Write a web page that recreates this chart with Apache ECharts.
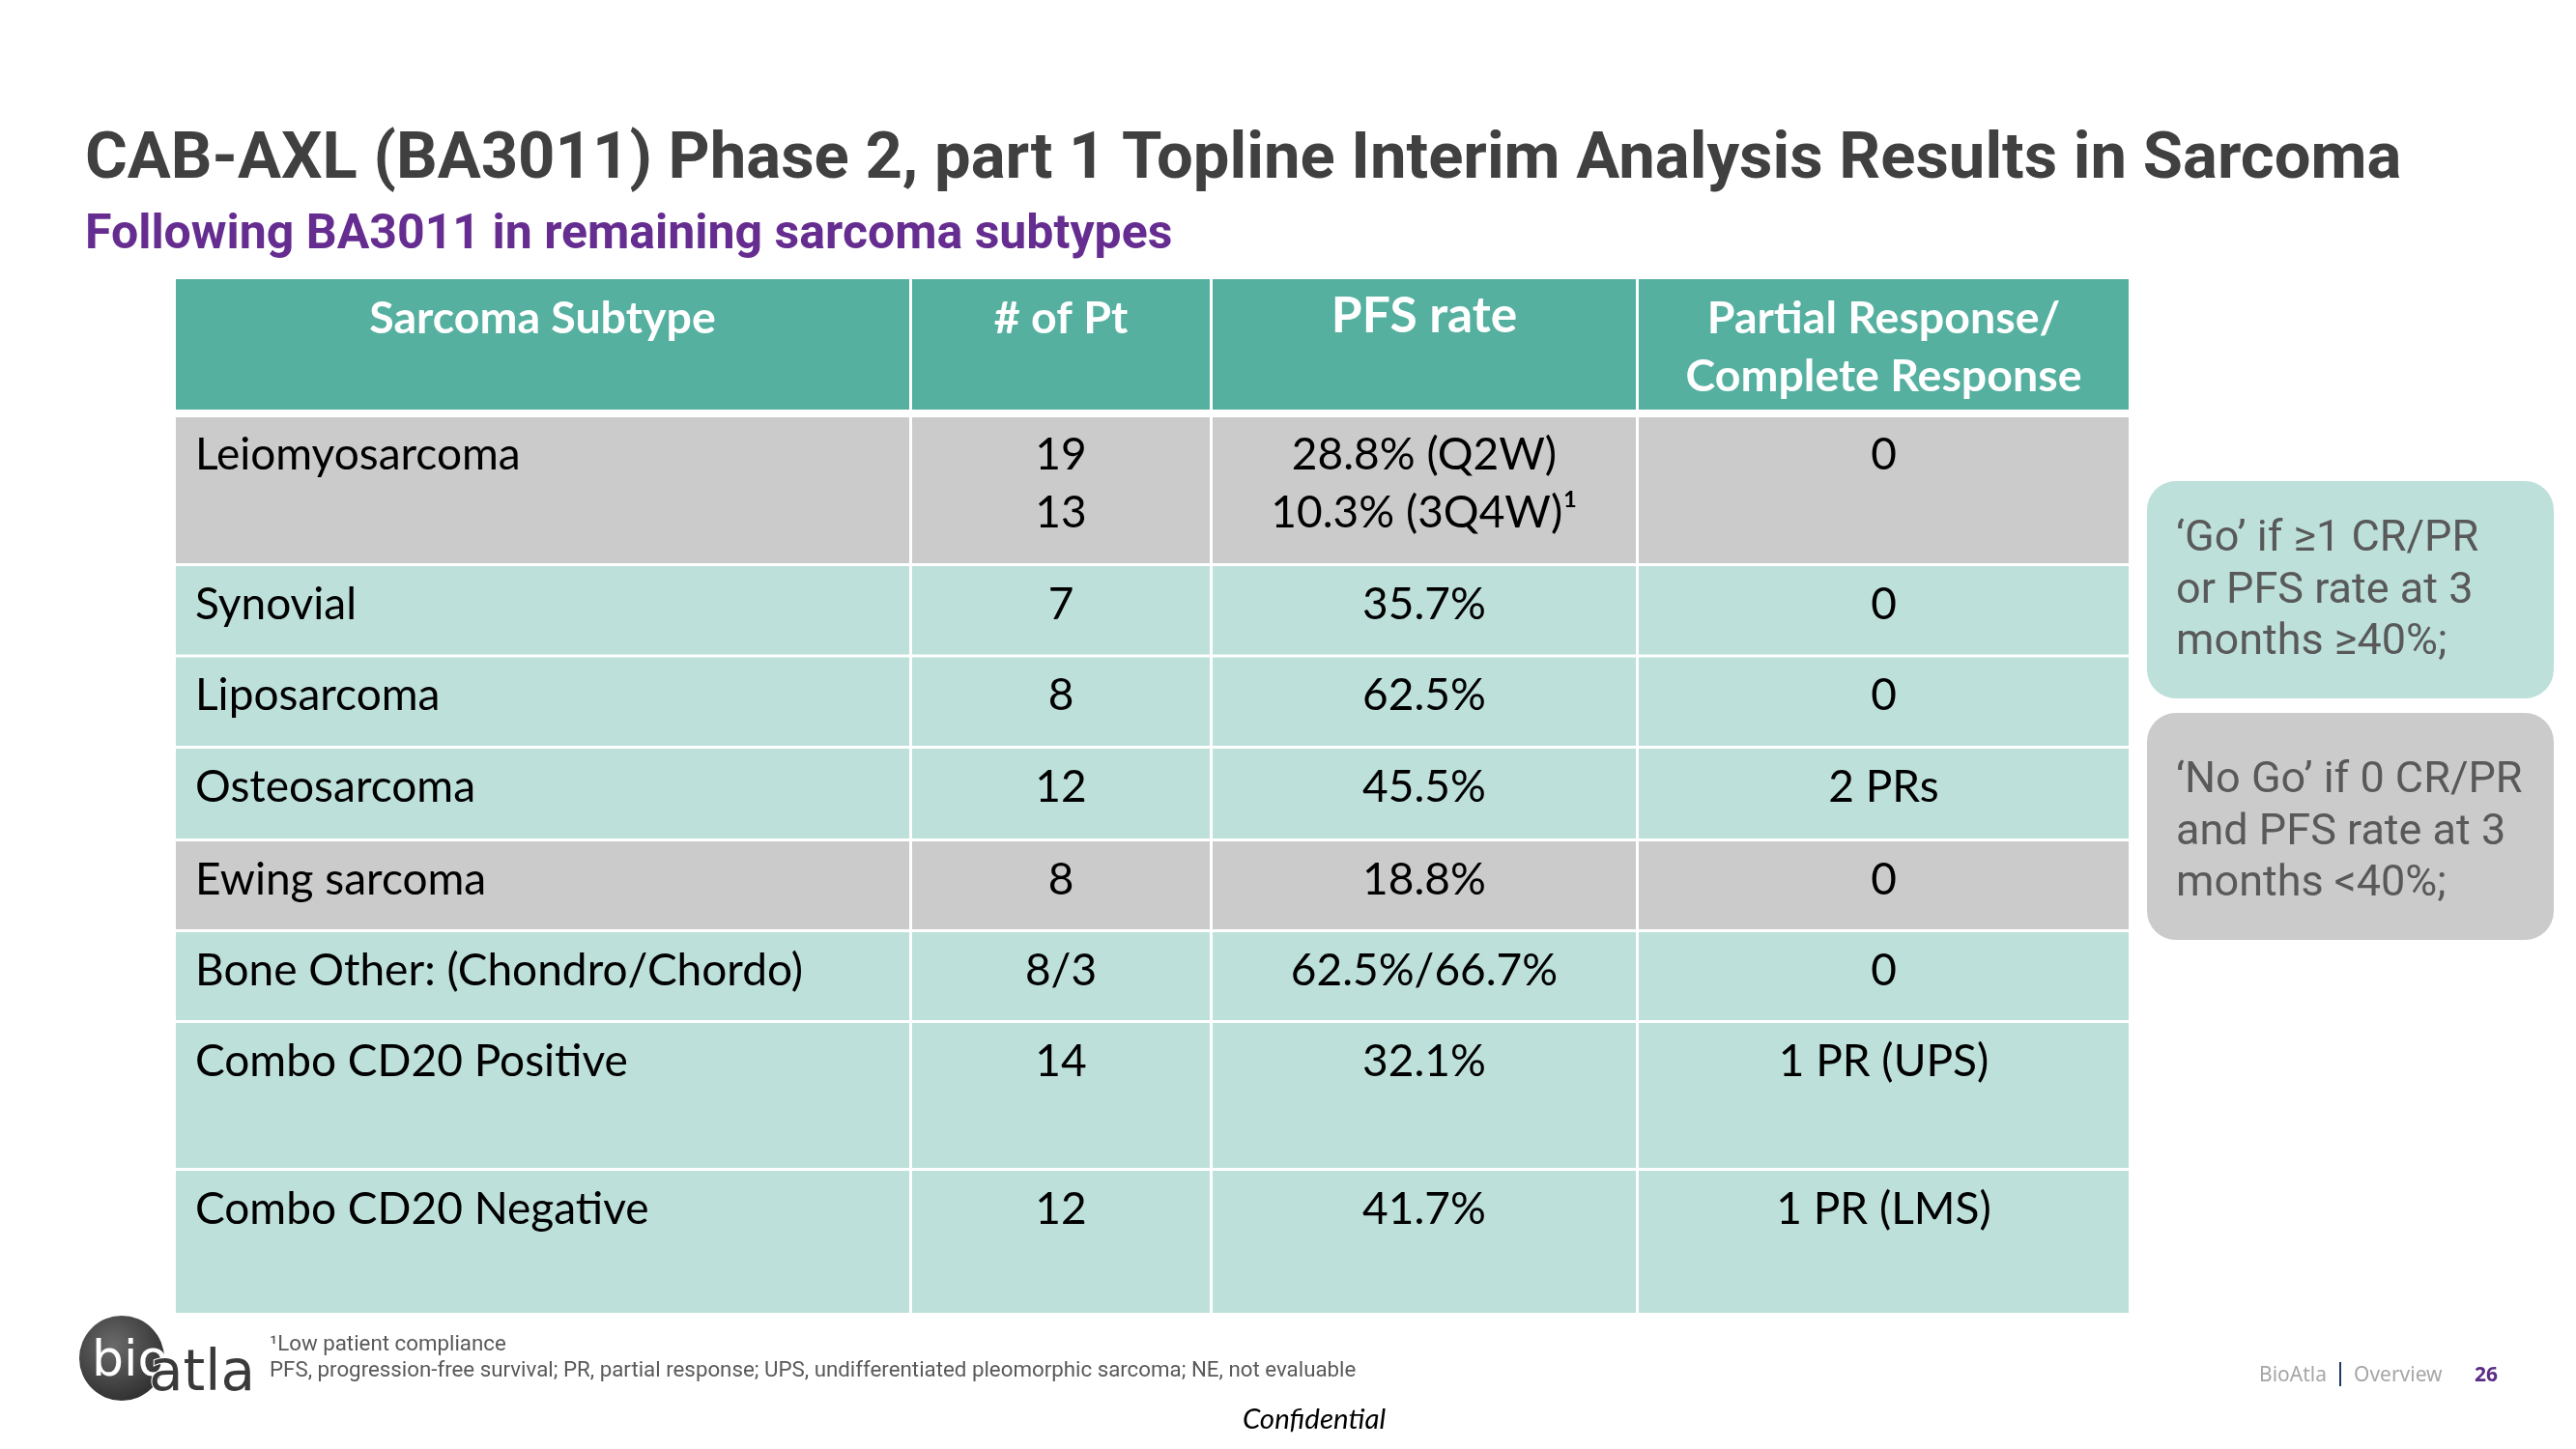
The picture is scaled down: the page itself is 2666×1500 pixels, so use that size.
<!DOCTYPE html>
<html><head><meta charset="utf-8">
<script src="https://cdn.jsdelivr.net/npm/echarts@6/dist/echarts.min.js"></script>
<style>html,body{margin:0;padding:0;background:#fff}#c{width:2666px;height:1500px}</style>
</head><body><div id="c"></div>
<script>
// ---------- data ----------
const titleText = 'CAB-AXL (BA3011) Phase 2, part 1 Topline Interim Analysis Results in Sarcoma';
const subtitleText = 'Following BA3011 in remaining sarcoma subtypes';
const headers = ['Sarcoma Subtype', '# of Pt', 'PFS rate', 'Partial Response/\nComplete Response'];
const subtypes = ['Leiomyosarcoma', 'Synovial', 'Liposarcoma', 'Osteosarcoma', 'Ewing sarcoma',
  'Bone Other: (Chondro/Chordo)', 'Combo CD20 Positive', 'Combo CD20 Negative'];
const patientCounts = ['19\n13', '7', '8', '12', '8', '8/3', '14', '12'];
const pfsRates = ['28.8% (Q2W)\n10.3% (3Q4W)¹', '35.7%', '62.5%', '45.5%', '18.8%', '62.5%/66.7%', '32.1%', '41.7%'];
const responses = ['0', '0', '0', '2 PRs', '0', '0', '1 PR (UPS)', '1 PR (LMS)'];
const rowStatus = ['No Go', 'Go', 'Go', 'Go', 'No Go', 'Go', 'Go', 'Go'];
const goRule = '‘Go’ if ≥1 CR/PR\nor PFS rate at 3\nmonths ≥40%;';
const noGoRule = '‘No Go’ if 0 CR/PR\nand PFS rate at 3\nmonths <40%;';
const footnotes = ['¹Low patient compliance',
  'PFS, progression-free survival; PR, partial response; UPS, undifferentiated pleomorphic sarcoma; NE, not evaluable'];

// ---------- layout (not data) ----------
const colWidths = [760.5, 311, 441, 508.5];
const rowHeights = [139, 156.5, 94.5, 94.5, 96, 94, 94, 153, 148.5];
const colEdges = [0]; colWidths.forEach(w => colEdges.push(colEdges[colEdges.length - 1] + w));
const rowEdges = [0]; rowHeights.forEach(h => rowEdges.push(rowEdges[rowEdges.length - 1] + h));
const C = { header: '#55B0A0', go: '#BDE0DA', nogo: '#CBCBCB' };
const bodyFont = 'Lato, "Open Sans", sans-serif';

// ---------- build cells ----------
const columnsData = [subtypes, patientCounts, pfsRates, responses];
const cells = [], cellText = [];
headers.forEach((h, c) => { cells.push([c, 0]); cellText.push(h); });
subtypes.forEach((s, r) => {
  columnsData.forEach((col, c) => { cells.push([c, r + 1]); cellText.push(col[r]); });
});

function renderCell(params, api) {
  const c = api.value(0), r = api.value(1);
  const p0 = api.coord([colEdges[c], rowEdges[r]]);
  const p1 = api.coord([colEdges[c + 1], rowEdges[r + 1]]);
  const L = p0[0] + (c > 0 ? 1.5 : 0), R = p1[0] - (c < 3 ? 1.5 : 0);
  const T = p0[1] + (r === 1 ? 4 : (r > 1 ? 1.5 : 0));
  const B = p1[1] - (r === 0 ? 4 : (r < 8 ? 1.5 : 0));
  const isHeader = r === 0;
  const fill = isHeader ? C.header : (rowStatus[r - 1] === 'No Go' ? C.nogo : C.go);
  const fs = isHeader ? (c === 2 ? 51.5 : 46.5) : 46;
  const leftAlign = !isHeader && c === 0;
  return {
    type: 'group',
    children: [
      { type: 'rect', shape: { x: L, y: T, width: R - L, height: B - T }, style: { fill: fill } },
      { type: 'text', style: {
          text: cellText[params.dataIndex],
          x: leftAlign ? L + 20 : (L + R) / 2,
          y: T + (isHeader ? (c === 2 ? 8 : 11) : (r === 1 ? 9 : 10)),
          align: leftAlign ? 'left' : 'center', verticalAlign: 'top',
          lineHeight: 60, fontSize: fs, fontFamily: bodyFont,
          fontWeight: isHeader ? 'bold' : 'normal',
          fill: isHeader ? '#ffffff' : '#000000'
      } }
    ]
  };
}

const chart = echarts.init(document.getElementById('c'), null, { renderer: 'canvas' });
const ruleFont = 'Roboto, sans-serif';
const logoFont = '"DejaVu Sans", sans-serif';
chart.setOption({
  animation: false,
  backgroundColor: '#ffffff',
  title: [
    { text: titleText, left: 88, top: 127, padding: 0,
      textStyle: { fontFamily: 'Roboto', fontWeight: 'bold', fontSize: 67, lineHeight: 80, color: '#404040' } },
    { text: subtitleText, left: 88, top: 214, padding: 0,
      textStyle: { fontFamily: 'Roboto', fontWeight: 'bold', fontSize: 50, lineHeight: 60, color: '#662D91' } }
  ],
  grid: { left: 182, top: 289, width: colEdges[4], height: rowEdges[9] },
  xAxis: { type: 'value', min: 0, max: colEdges[4], show: false },
  yAxis: { type: 'value', min: 0, max: rowEdges[9], inverse: true, show: false },
  series: [{ type: 'custom', renderItem: renderCell, data: cells, silent: true, clip: false }],
  graphic: [
    { type: 'rect', shape: { x: 2222, y: 498, width: 421, height: 225, r: 30 }, style: { fill: C.go } },
    { type: 'text', x: 2252, y: 532, style: { text: goRule, fontFamily: ruleFont, fontSize: 45, lineHeight: 53.5,
        fill: '#595959', verticalAlign: 'top' } },
    { type: 'rect', shape: { x: 2222, y: 738, width: 421, height: 235, r: 30 }, style: { fill: C.nogo } },
    { type: 'text', x: 2252, y: 782, style: { text: noGoRule, fontFamily: ruleFont, fontSize: 45, lineHeight: 53.5,
        fill: '#595959', verticalAlign: 'top' } },
    // footnotes
    { type: 'text', x: 279, y: 1392, style: { text: footnotes[0], fontFamily: 'Roboto', fontSize: 22.3,
        fill: '#595959', verticalAlign: 'middle' } },
    { type: 'text', x: 279, y: 1419, style: { text: footnotes[1], fontFamily: 'Roboto', fontSize: 22.3,
        fill: '#595959', verticalAlign: 'middle' } },
    { type: 'text', x: 1360, y: 1469, style: { text: 'Confidential', fontFamily: 'Lato', fontStyle: 'italic',
        fontSize: 29.5, fill: '#000000', align: 'center', verticalAlign: 'middle' } },
    // logo
    { type: 'circle', shape: { cx: 126, cy: 1406, r: 44 },
      style: { fill: { type: 'radial', x: 0.4, y: 0.35, r: 0.7,
        colorStops: [{ offset: 0, color: '#6a6a6a' }, { offset: 1, color: '#2e2e2e' }] } } },
    { type: 'text', x: 95, y: 1410, style: { text: 'bio', fontFamily: logoFont, fontSize: 52,
        fill: '#ffffff', verticalAlign: 'middle' } },
    { type: 'text', x: 154, y: 1424, style: { text: 'atla', fontFamily: logoFont, fontSize: 58,
        fill: '#3a3a3a', stroke: '#ffffff', lineWidth: 2, verticalAlign: 'middle' } },
    // footer right
    { type: 'text', x: 2338, y: 1424, style: { text: 'BioAtla', fontFamily: '"Noto Sans", sans-serif', fontSize: 21,
        fill: '#a6a6a6', verticalAlign: 'middle' } },
    { type: 'rect', shape: { x: 2421, y: 1410, width: 2, height: 25 }, style: { fill: '#1f3864' } },
    { type: 'text', x: 2436, y: 1424, style: { text: 'Overview', fontFamily: '"Noto Sans", sans-serif', fontSize: 21,
        fill: '#a6a6a6', verticalAlign: 'middle' } },
    { type: 'text', x: 2561, y: 1424, style: { text: '26', fontFamily: '"Noto Sans", sans-serif', fontSize: 21,
        fontWeight: 'bold', fill: '#5b2d86', verticalAlign: 'middle' } }
  ]
});
</script></body></html>
